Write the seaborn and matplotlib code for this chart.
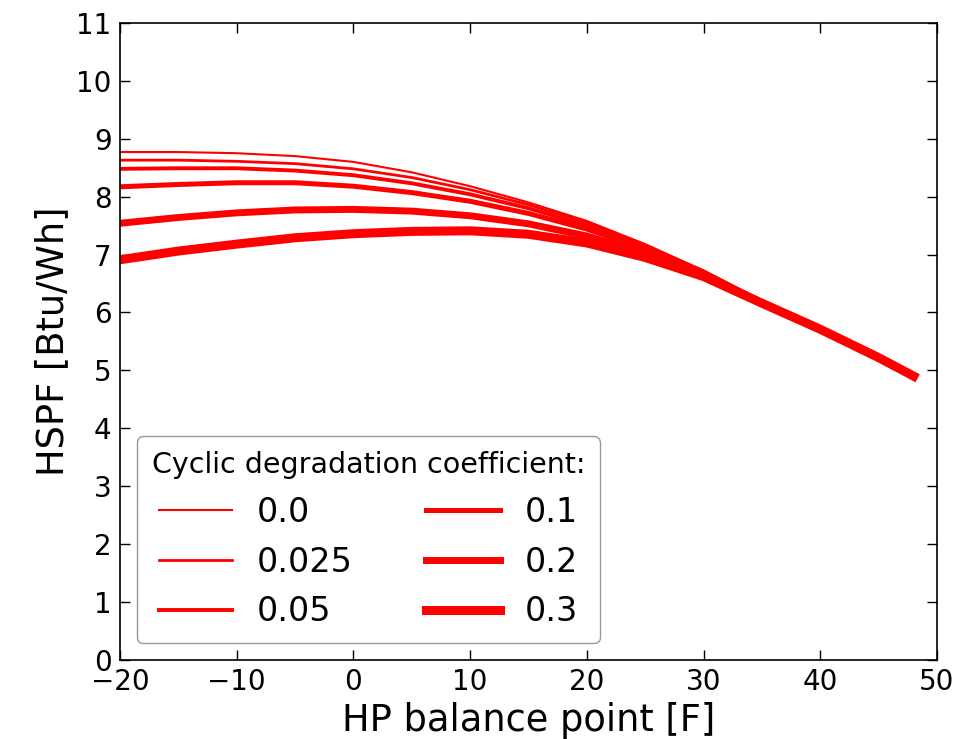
import matplotlib
matplotlib.use("Agg")
import matplotlib.pyplot as plt
import seaborn as sns

# HP balance point [F]
balance_point = [-20, -15, -10, -5, 0, 5, 10, 15, 20, 25, 30, 35, 40, 45, 48]

# HSPF [Btu/Wh] for each cyclic degradation coefficient
hspf_000 = [8.77, 8.77, 8.75, 8.70, 8.60, 8.42, 8.18, 7.90, 7.58, 7.18, 6.72, 6.20, 5.72, 5.22, 4.90]
hspf_0025 = [8.63, 8.63, 8.61, 8.57, 8.48, 8.33, 8.12, 7.86, 7.55, 7.16, 6.72, 6.20, 5.72, 5.22, 4.90]
hspf_005 = [8.48, 8.49, 8.49, 8.45, 8.37, 8.23, 8.04, 7.80, 7.50, 7.13, 6.70, 6.19, 5.72, 5.22, 4.90]
hspf_01 = [8.17, 8.21, 8.24, 8.24, 8.18, 8.07, 7.92, 7.71, 7.44, 7.09, 6.68, 6.18, 5.71, 5.22, 4.90]
hspf_02 = [7.54, 7.64, 7.72, 7.77, 7.78, 7.75, 7.67, 7.53, 7.32, 7.02, 6.65, 6.17, 5.71, 5.22, 4.90]
hspf_03 = [6.91, 7.06, 7.18, 7.29, 7.36, 7.40, 7.41, 7.35, 7.20, 6.95, 6.62, 6.16, 5.71, 5.22, 4.90]

coef_labels = ["0.0", "0.025", "0.05", "0.1", "0.2", "0.3"]
series = [hspf_000, hspf_0025, hspf_005, hspf_01, hspf_02, hspf_03]
widths = [1.5, 2.0, 2.8, 3.6, 5.0, 6.5]

sns.set_style("ticks")
plt.rcParams["font.family"] = ["DejaVu Sans"]
plt.rcParams["xtick.direction"] = "in"
plt.rcParams["ytick.direction"] = "in"
for k in ["text.color", "axes.labelcolor", "xtick.color", "ytick.color",
          "axes.edgecolor"]:
    plt.rcParams[k] = "black"

fig = plt.figure(figsize=(9.69, 7.39), dpi=100)
ax = fig.add_axes([0.1238, 0.107, 0.8432, 0.862])

# one line per coefficient, thicker for larger degradation
for lab, vals, lw in zip(coef_labels, series, widths):
    sns.lineplot(x=balance_point, y=vals, color="red", linewidth=lw,
                 label=lab, ax=ax, solid_capstyle="projecting")

ax.set_xlim(-20, 50)
ax.set_ylim(0, 11)
ax.set_xticks(range(-20, 51, 10))
ax.set_yticks(range(0, 12))
ax.set_xlabel("HP balance point [F]", fontsize=26.5)
ax.set_ylabel("HSPF [Btu/Wh]", fontsize=26.5)
ax.tick_params(which="both", top=True, right=True, length=7, width=1,
               labelsize=20, pad=6)
for s in ax.spines.values():
    s.set_linewidth(1.2)

leg = ax.legend(title="Cyclic degradation coefficient:", ncol=2,
                loc="lower left", fontsize=24, title_fontsize=20.5,
                handlelength=2.2, frameon=True, fancybox=True,
                borderaxespad=0.5, columnspacing=2.2, labelspacing=0.5,
                handletextpad=0.75, borderpad=0.45)
leg.get_frame().set_edgecolor("0.5")

fig.savefig("out.png", dpi=100)
